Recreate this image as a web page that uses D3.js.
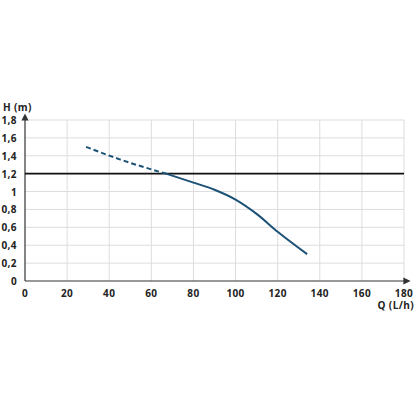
<!DOCTYPE html><html><head><meta charset="utf-8"><script src="https://cdn.jsdelivr.net/npm/d3@7"></script>
<style>body{margin:0;background:#fff}text{font-family:"Open Sans",sans-serif;font-weight:700;font-size:10px;fill:#222;letter-spacing:0.4px}</style></head><body><svg id="c" width="416" height="416"></svg><script>
const xTicks=[0,20,40,60,80,100,120,140,160,180];
const yTicks=[0,0.2,0.4,0.6,0.8,1,1.2,1.4,1.6,1.8];
const dashedQ=[29,45,67], dashedH=[1.5,1.36,1.2];
const solidQ=[67,80,90,100,110,120,134], solidH=[1.2,1.1,1.02,0.91,0.75,0.55,0.3];
const refH=1.2;
const svg=d3.select("#c");
const x=d3.scaleLinear().domain([0,180]).range([25,404]);
const y=d3.scaleLinear().domain([0,1.8]).range([281,120]);
svg.append("g").selectAll("line").data(xTicks.slice(1)).join("line").attr("x1",x).attr("x2",x).attr("y1",y(0)).attr("y2",y(1.8)).attr("stroke","#ddd");
svg.append("g").selectAll("line").data(yTicks.slice(1)).join("line").attr("y1",y).attr("y2",y).attr("x1",x(0)).attr("x2",x(180)).attr("stroke","#ddd");
svg.append("defs").append("marker").attr("id","a").attr("viewBox","0 0 10 10").attr("refX",5).attr("refY",5).attr("markerWidth",6).attr("markerHeight",6).attr("orient","auto-start-reverse").append("path").attr("d","M0,0L10,5L0,10z").attr("fill","#333");
svg.append("line").attr("x1",x(0)).attr("x2",x(180)+3).attr("y1",y(0)).attr("y2",y(0)).attr("stroke","#333").attr("stroke-width",1.2).attr("marker-end","url(#a)");
svg.append("line").attr("x1",x(0)).attr("x2",x(0)).attr("y1",y(0)).attr("y2",y(1.8)-3).attr("stroke","#333").attr("stroke-width",1.2).attr("marker-end","url(#a)");
svg.append("g").selectAll("text").data(xTicks).join("text").attr("x",x).attr("y",y(0)+16).attr("text-anchor","middle").text(d=>d);
svg.append("g").selectAll("text").data(yTicks).join("text").attr("x",17).attr("y",d=>y(d)+4).attr("text-anchor","end").text(d=>String(d).replace(".",","));
svg.append("text").attr("x",3).attr("y",111).text("H (m)");
svg.append("text").attr("x",414).attr("y",309).attr("text-anchor","end").text("Q (L/h)");
svg.append("line").attr("x1",x(0)).attr("x2",x(180)).attr("y1",y(refH)).attr("y2",y(refH)).attr("stroke","#111").attr("stroke-width",1.6);
const line=d3.line().x(d=>x(d[0])).y(d=>y(d[1])).curve(d3.curveMonotoneX);
svg.append("path").attr("d",line(dashedQ.map((q,i)=>[q,dashedH[i]]))).attr("fill","none").attr("stroke","#1d5277").attr("stroke-width",2).attr("stroke-dasharray","5,3");
svg.append("path").attr("d",line(solidQ.map((q,i)=>[q,solidH[i]]))).attr("fill","none").attr("stroke","#1d5277").attr("stroke-width",2);
</script></body></html>
